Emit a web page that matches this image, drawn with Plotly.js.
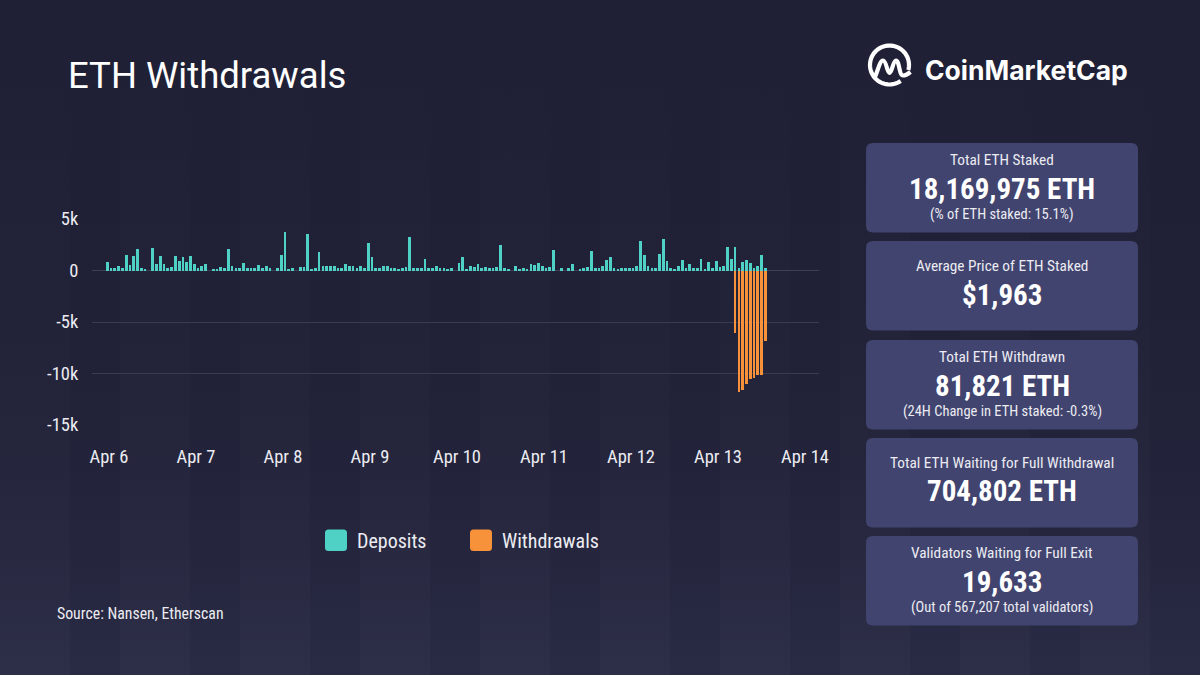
<!DOCTYPE html>
<html>
<head>
<meta charset="utf-8">
<title>ETH Withdrawals</title>
<script src="https://cdn.plot.ly/plotly-3.0.1.min.js"></script>
<style>
  html, body { margin: 0; padding: 0; background: #1f2035; }
  #chart {
    width: 1200px; height: 675px;
    background:
      linear-gradient(to bottom, rgba(31,32,53,1) 0%, rgba(31,32,53,0.0) 100%),
      repeating-linear-gradient(to right, rgba(255,255,255,0.018) 0px, rgba(255,255,255,0.018) 70px, rgba(255,255,255,0.0) 70px, rgba(255,255,255,0.0) 120px),
      linear-gradient(to bottom, #1f2035 0%, #23243b 60%, #292a44 100%);
  }
</style>
</head>
<body>
<div id="chart"></div>
<script>
// Staking flows per 10-epoch batch (ETH), starting at the first batch of Apr 6
const batchStart = '2023-04-05T23:32:00Z';
const batchMinutes = 62.6;

const depositsEth = [
  850, 200, 200, 400, 200, 1500, 500, 1400, 2100, 250, 100, 0, 2200, 650, 1400, 650,
  250, 300, 1400, 900, 1350, 850, 1400, 600, 250, 400, 650, 0, 100, 100, 300, 200,
  2050, 400, 200, 200, 700, 200, 200, 250, 500, 200, 400, 200, 0, 250,
  1550, 3700, 100, 250, 0, 300, 300, 3550, 100, 200, 1800, 400, 400, 400, 400, 250,
  250, 650, 400, 400, 200, 400, 200, 2700, 1350, 250, 200, 450, 450, 200, 200, 100,
  200, 300, 3300, 200, 200, 200, 1100, 200, 250, 400, 200, 250, 100, 200, 0, 700,
  1350, 100, 450, 300, 650, 200, 300, 200, 250, 300, 2500, 200, 100, 0, 400, 100,
  200, 100, 600, 500, 700, 450, 250, 300, 2000, 0, 200, 0, 200, 650, 0, 100,
  200, 300, 1900, 200, 200, 400, 1000, 1300, 200, 100, 200, 250, 200, 200, 450,
  2900, 1550, 450, 200, 250, 1600, 3100, 900, 200, 100, 400, 1000, 200, 650, 200, 200,
  1150, 100, 850, 200, 900, 300, 450, 2300, 1150, 2300, 200, 850, 1000, 700, 250, 400,
  1550, 250
];

// Withdrawals occupy the most recent batches
const withdrawalsEth = [-6050, -11800, -11600, -11000, -10500, -10400, -10150, -10150, -6800];

const dayTicks = ['2023-04-06', '2023-04-07', '2023-04-08', '2023-04-09', '2023-04-10',
                  '2023-04-11', '2023-04-12', '2023-04-13', '2023-04-14'];
const dayLabels = ['Apr 6', 'Apr 7', 'Apr 8', 'Apr 9', 'Apr 10', 'Apr 11', 'Apr 12', 'Apr 13', 'Apr 14'];

const yTickVals = [5000, 0, -5000, -10000, -15000];
const yTickLabels = ['5k', '0', '-5k', '-10k', '-15k'];

const seriesNames = ['Deposits', 'Withdrawals'];
const seriesColors = ['#4fd1c5', '#f8923a'];

const panelTitles = ['Total ETH Staked', 'Average Price of ETH Staked', 'Total ETH Withdrawn',
                     'Total ETH Waiting for Full Withdrawal', 'Validators Waiting for Full Exit'];
const panelValues = ['18,169,975 ETH', '$1,963', '81,821 ETH', '704,802 ETH', '19,633'];
const panelNotes = ['(% of ETH staked: 15.1%)', '', '(24H Change in ETH staked: -0.3%)', '',
                    '(Out of 567,207 total validators)'];

// ---------------------------------------------------------------------------
const W = 1200, H = 675;
const px = x => x / W;
const py = y => 1 - y / H;
const NARROW = '"Noto Sans Condensed", "Roboto Condensed", "Open Sans Condensed", "DejaVu Sans Condensed", sans-serif';
const TEXT = '#ececf2';

const stepMs = batchMinutes * 60000;
const t0 = Date.parse(batchStart);
const fmt = ms => new Date(ms).toISOString().slice(0, 19).replace('T', ' ');
const batchTimes = depositsEth.map((_, i) => fmt(t0 + i * stepMs));
const withdrawalTimes = batchTimes.slice(batchTimes.length - withdrawalsEth.length);
const barWidth = stepMs * 0.72;

const traces = [
  { type: 'bar', name: seriesNames[0], x: batchTimes, y: depositsEth, width: barWidth,
    marker: { color: seriesColors[0], line: { width: 0 } }, hoverinfo: 'x+y' },
  { type: 'bar', name: seriesNames[1], x: withdrawalTimes, y: withdrawalsEth, width: barWidth,
    marker: { color: seriesColors[1], line: { width: 0 } }, hoverinfo: 'x+y' }
];

// rounded rectangle as a paper-space path, given pixel corners
function roundRect(x0, y0, x1, y1, r) {
  const P = (x, y) => px(x).toFixed(5) + ',' + py(y).toFixed(5);
  return 'M' + P(x0 + r, y0) + ' L' + P(x1 - r, y0) + ' Q' + P(x1, y0) + ' ' + P(x1, y0 + r) +
         ' L' + P(x1, y1 - r) + ' Q' + P(x1, y1) + ' ' + P(x1 - r, y1) +
         ' L' + P(x0 + r, y1) + ' Q' + P(x0, y1) + ' ' + P(x0, y1 - r) +
         ' L' + P(x0, y0 + r) + ' Q' + P(x0, y0) + ' ' + P(x0 + r, y0) + ' Z';
}

const shapes = [];
const annotations = [];

// title and source
annotations.push({ xref: 'paper', yref: 'paper', x: px(66), y: py(75), xanchor: 'left', yanchor: 'middle',
  text: 'ETH Withdrawals', showarrow: false, font: { family: 'Roboto, sans-serif', size: 36.5, color: '#ffffff' } });
annotations.push({ xref: 'paper', yref: 'paper', x: px(55), y: py(613), xanchor: 'left', yanchor: 'middle',
  text: 'Source: Nansen, Etherscan', showarrow: false, font: { family: NARROW, size: 15.8, color: TEXT } });

// legend
const legendItems = [{ x: 325, label: seriesNames[0], color: seriesColors[0] },
                     { x: 470, label: seriesNames[1], color: seriesColors[1] }];
legendItems.forEach(it => {
  shapes.push({ type: 'path', xref: 'paper', yref: 'paper', path: roundRect(it.x, 529.5, it.x + 22, 551, 3.5),
    fillcolor: it.color, line: { width: 0 } });
  annotations.push({ xref: 'paper', yref: 'paper', x: px(it.x + 30), y: py(540.5), xanchor: 'left', yanchor: 'middle',
    text: it.label, showarrow: false, font: { family: NARROW, size: 20, color: TEXT } });
});

// stat panels
const panelTops = [143, 241, 340, 438, 536];
panelTops.forEach((top, i) => {
  shapes.push({ type: 'path', xref: 'paper', yref: 'paper', path: roundRect(866, top, 1138, top + 89.5, 7),
    fillcolor: '#41446f', line: { width: 0 }, layer: 'below' });
  const hasNote = panelNotes[i] !== '';
  const titleY = hasNote ? top + 16.5 : top + 25;
  const valueY = hasNote ? top + 45.5 : top + 53.5;
  annotations.push({ xref: 'paper', yref: 'paper', x: px(1002), y: py(titleY), xanchor: 'center', yanchor: 'middle',
    text: panelTitles[i], showarrow: false, font: { family: NARROW, size: 15.3, color: TEXT } });
  annotations.push({ xref: 'paper', yref: 'paper', x: px(1002), y: py(valueY), xanchor: 'center', yanchor: 'middle',
    text: panelValues[i], showarrow: false, font: { family: NARROW, size: 29, color: '#ffffff', weight: 'bold' } });
  if (hasNote) {
    annotations.push({ xref: 'paper', yref: 'paper', x: px(1002), y: py(top + 71.5), xanchor: 'center', yanchor: 'middle',
      text: panelNotes[i], showarrow: false, font: { family: NARROW, size: 14.5, color: TEXT } });
  }
});

// brand mark: open ring with a wave through it
(function () {
  const cx = 889.5, cy = 65, r = 19.5;
  const pts = [];
  for (let a = 55; a <= 375; a += 5) {
    const rad = a * Math.PI / 180;
    pts.push([cx + r * Math.cos(rad), cy + r * Math.sin(rad)]);
  }
  const ring = pts.map((p, k) => (k ? 'L' : 'M') + px(p[0]).toFixed(5) + ',' + py(p[1]).toFixed(5)).join(' ');
  shapes.push({ type: 'path', xref: 'paper', yref: 'paper', path: ring, line: { color: '#ffffff', width: 4.2 } });
  const P = (x, y) => px(x).toFixed(5) + ',' + py(y).toFixed(5);
  const wave = 'M' + P(875, 77) + ' C' + P(878, 70) + ' ' + P(880, 60.5) + ' ' + P(883, 60.5) +
               ' C' + P(886.5, 60.5) + ' ' + P(887, 73) + ' ' + P(889.5, 73) +
               ' C' + P(892, 73) + ' ' + P(893, 60.5) + ' ' + P(896, 60.5) +
               ' C' + P(899.5, 60.5) + ' ' + P(899, 75.5) + ' ' + P(903, 75.5) +
               ' C' + P(906, 75.5) + ' ' + P(908, 74) + ' ' + P(910.5, 72);
  shapes.push({ type: 'path', xref: 'paper', yref: 'paper', path: wave, line: { color: '#ffffff', width: 4.2 } });
  annotations.push({ xref: 'paper', yref: 'paper', x: px(923), y: py(70), xanchor: 'left', yanchor: 'middle',
    text: 'CoinMarketCap', showarrow: false, font: { family: 'Inter, sans-serif', size: 26.5, color: '#ffffff', weight: 'bold' } });
})();

const layout = {
  width: W, height: H,
  margin: { l: 0, r: 0, t: 0, b: 0, pad: 0 },
  paper_bgcolor: 'rgba(0,0,0,0)',
  plot_bgcolor: 'rgba(0,0,0,0)',
  showlegend: false,
  barmode: 'relative',
  bargap: 0,
  font: { family: NARROW, color: TEXT },
  xaxis: {
    type: 'date',
    domain: [px(92), px(819)],
    range: ['2023-04-05 19:19', '2023-04-14 03:52'],
    tickmode: 'array', tickvals: dayTicks, ticktext: dayLabels,
    showgrid: false, zeroline: false, showline: false,
    ticks: 'outside', ticklen: 15, tickcolor: 'rgba(0,0,0,0)',
    tickfont: { family: NARROW, size: 18.5, color: TEXT },
    fixedrange: true
  },
  yaxis: {
    domain: [py(425), py(219)],
    range: [-15000, 5000],
    tickmode: 'array', tickvals: yTickVals, ticktext: yTickLabels,
    showgrid: true, gridcolor: '#3a3b52', gridwidth: 1,
    zeroline: true, zerolinecolor: '#3f4057', zerolinewidth: 1,
    showline: false,
    ticks: 'outside', ticklen: 9, tickcolor: 'rgba(0,0,0,0)',
    tickfont: { family: NARROW, size: 18.5, color: TEXT },
    fixedrange: true
  },
  shapes: shapes,
  annotations: annotations
};

Plotly.newPlot('chart', traces, layout, { displayModeBar: false, responsive: false });
</script>
</body>
</html>
